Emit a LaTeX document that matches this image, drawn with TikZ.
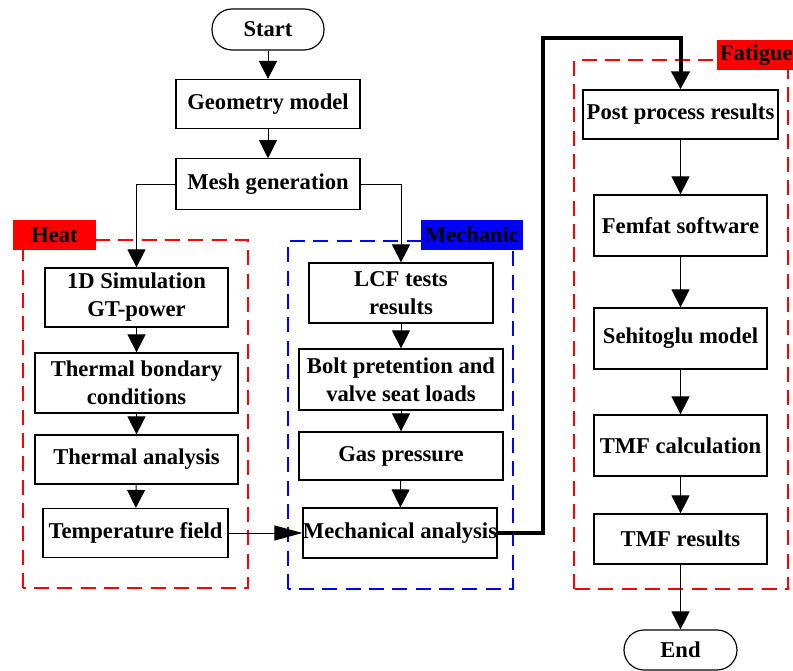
\documentclass[tikz,border=0pt]{standalone}
\usepackage{fontspec}
\setmainfont{Liberation Serif}
\usetikzlibrary{arrows.meta}
\tikzset{
	box/.style={draw, line width=1pt, fill=white, align=center, inner sep=0pt, font=\bfseries\fontsize{19.3}{24}\selectfont},
	term/.style={box, rounded corners=0.6cm},
	flow/.style={line width=0.8pt, -{Triangle[length=0.54cm, width=0.54cm]}},
	group/.style={draw=#1, line width=1.8pt, dash pattern=on 0.45cm off 0.25cm},
	tag/.style={fill=#1, inner sep=0pt, minimum height=0.9cm, font=\bfseries\fontsize{19.3}{24}\selectfont}
}
\begin{document}
\begin{tikzpicture}
	\useasboundingbox (0, 0) rectangle (23.79, 20.13);
	\clip (0, 0) rectangle (23.79, 20.13);
	\draw[group=red] (0.69, 2.49) rectangle (7.44, 12.93);
	\draw[group=blue] (8.64, 2.46) rectangle (15.39, 12.9);
	\draw[group=red] (17.22, 2.46) rectangle (23.64, 18.33);
	\node[tag=red, minimum width=2.49cm] (heattag) at (1.635, 13.08) {Heat};
	\node[tag=blue, minimum width=3.06cm] (mechtag) at (14.16, 13.08) {Mechanic};
	\node[tag=red, anchor=west, inner xsep=0.08cm] (fattag) at (21.51, 18.48) {Fatigue};
	\node[term, minimum width=3.36cm, minimum height=1.23cm] (start) at (8.04, 19.245) {Start};
	\node[box, minimum width=5.52cm, minimum height=1.47cm] (geom) at (8.04, 17.01) {Geometry model};
	\node[box, minimum width=5.52cm, minimum height=1.53cm] (mesh) at (8.04, 14.6) {Mesh generation};
	\node[box, minimum width=5.49cm, minimum height=1.77cm] (sim) at (4.095, 11.205) {1D Simulation\\GT-power};
	\node[box, minimum width=6.09cm, minimum height=1.8cm] (bound) at (4.095, 8.64) {Thermal bondary\\conditions};
	\node[box, minimum width=6.09cm, minimum height=1.47cm] (thermal) at (4.095, 6.345) {Thermal analysis};
	\node[box, minimum width=5.55cm, minimum height=1.47cm] (temp) at (4.065, 4.14) {Temperature field};
	\node[box, minimum width=5.52cm, minimum height=1.8cm] (lcf) at (12.03, 11.34) {LCF tests\\results};
	\node[box, minimum width=6.12cm, minimum height=1.83cm] (bolt) at (12.03, 8.745) {Bolt pretention and\\valve seat loads};
	\node[box, minimum width=6.12cm, minimum height=1.44cm] (gas) at (12.03, 6.45) {Gas pressure};
	\node[box, minimum width=5.52cm, minimum height=1.5cm] (mech) at (12.0, 4.14) {Mechanical analysis};
	\node[box, minimum width=5.85cm, minimum height=1.47cm] (post) at (20.415, 16.695) {Post process results};
	\node[box, minimum width=5.19cm, minimum height=1.83cm] (femfat) at (20.415, 13.365) {Femfat software};
	\node[box, minimum width=5.19cm, minimum height=1.83cm] (sehi) at (20.415, 9.975) {Sehitoglu model};
	\node[box, minimum width=5.19cm, minimum height=1.83cm] (tmfcalc) at (20.415, 6.765) {TMF calculation};
	\node[box, minimum width=5.19cm, minimum height=1.5cm] (tmfres) at (20.415, 3.96) {TMF results};
	\node[term, minimum width=3.39cm, minimum height=1.2cm] (end) at (20.415, 0.63) {End};
	\coordinate (bend) at (16.29, 18.99);
	\draw[flow] (start) -- (geom);
	\draw[flow] (geom) -- (mesh);
	\draw[flow] (mesh.west) -| (sim.north);
	\draw[flow] (mesh.east) -| (lcf.north);
	\draw[flow] (sim) -- (bound);
	\draw[flow] (bound) -- (thermal);
	\draw[flow] (thermal) -- (temp);
	\draw[flow] (lcf) -- (bolt);
	\draw[flow] (bolt) -- (gas);
	\draw[flow] (gas) -- (mech);
	\draw[line width=0.8pt, -{Triangle[length=0.84cm, width=0.45cm]}] (temp) -- (mech);
	\draw[line width=3.4pt, -{Triangle[length=0.54cm, width=0.54cm]}] (mech.east) -| (bend) -| (post.north);
	\draw[flow] (post) -- (femfat);
	\draw[flow] (femfat) -- (sehi);
	\draw[flow] (sehi) -- (tmfcalc);
	\draw[flow] (tmfcalc) -- (tmfres);
	\draw[flow] (tmfres) -- (end);
\end{tikzpicture}
\end{document}
